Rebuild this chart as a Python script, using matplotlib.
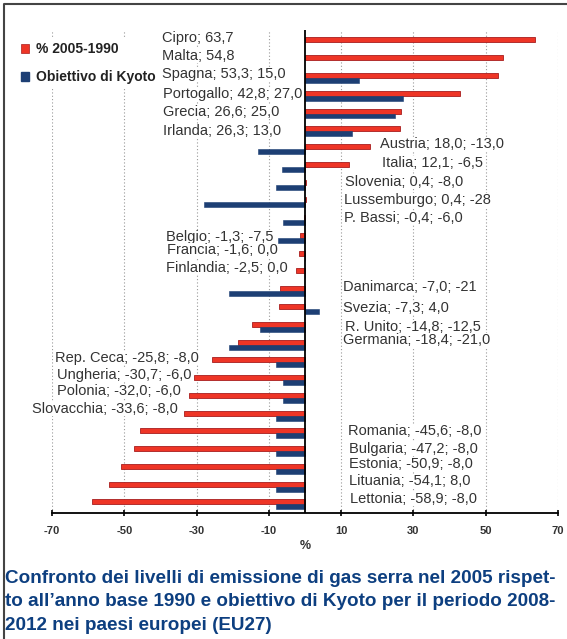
import numpy as np
import matplotlib
matplotlib.use("Agg")
from matplotlib import pyplot as plt
from matplotlib.patches import Patch
from matplotlib.lines import Line2D

# dati: variazione % 2005 vs 1990 e obiettivo di Kyoto
paesi = ["Cipro", "Malta", "Spagna", "Portogallo", "Grecia", "Irlanda", "Austria",
         "Italia", "Slovenia", "Lussemburgo", "P. Bassi", "Belgio", "Francia",
         "Finlandia", "Danimarca", "Svezia", "R. Unito", "Germania", "Rep. Ceca",
         "Ungheria", "Polonia", "Slovacchia", "Romania", "Bulgaria", "Estonia",
         "Lituania", "Lettonia"]
var_2005_1990 = [63.7, 54.8, 53.3, 42.8, 26.6, 26.3, 18.0, 12.1, 0.4, 0.4, -0.4,
                 -1.3, -1.6, -2.5, -7.0, -7.3, -14.8, -18.4, -25.8, -30.7, -32.0,
                 -33.6, -45.6, -47.2, -50.9, -54.1, -58.9]
kyoto = [np.nan, np.nan, 15.0, 27.0, 25.0, 13.0, -13.0, -6.5, -8.0, -28.0, -6.0,
         -7.5, 0.0, 0.0, -21.0, 4.0, -12.5, -21.0, -8.0, -6.0, -6.0, -8.0, -8.0,
         -8.0, -8.0, -8.0, -8.0]
etichette = ["Cipro; 63,7", "Malta; 54,8", "Spagna; 53,3; 15,0",
             "Portogallo; 42,8; 27,0", "Grecia; 26,6; 25,0", "Irlanda; 26,3; 13,0",
             "Austria; 18,0; -13,0", "Italia; 12,1; -6,5", "Slovenia; 0,4; -8,0",
             "Lussemburgo; 0,4; -28", "P. Bassi; -0,4; -6,0", "Belgio; -1,3; -7,5",
             "Francia; -1,6; 0,0", "Finlandia; -2,5; 0,0", "Danimarca; -7,0; -21",
             "Svezia; -7,3; 4,0", "R. Unito; -14,8; -12,5", "Germania; -18,4; -21,0",
             "Rep. Ceca; -25,8; -8,0", "Ungheria; -30,7; -6,0", "Polonia; -32,0; -6,0",
             "Slovacchia; -33,6; -8,0", "Romania; -45,6; -8,0", "Bulgaria; -47,2; -8,0",
             "Estonia; -50,9; -8,0", "Lituania; -54,1; 8,0", "Lettonia; -58,9; -8,0"]
ticks = [-70, -50, -30, -10, 10, 30, 50, 70]

# posizione delle etichette (x in %, y in unita' di categoria)
lab_x = [-39.5, -39.5, -39.5, -39.2, -39.2, -39.2, 20.7, 21.3, 11.0, 10.8, 10.8,
         -38.4, -38.1, -38.4, 10.5, 10.5, 11.0, 10.5, -69.1, -68.5, -68.5, -75.4,
         11.9, 12.2, 12.2, 12.2, 12.4]
lab_y = [-0.25, 0.76, 1.80, 2.90, 3.91, 4.98, 5.71, 6.78, 7.85, 8.86, 9.88, 10.95,
         11.68, 12.69, 13.76, 14.94, 16.01, 16.74, 17.75, 18.71, 19.61, 20.62,
         21.86, 22.87, 23.72, 24.67, 25.69]

RED = "#ee3526"
RED_EDGE = "#a81d1d"
BLUE = "#1d3f74"
TXT = "#333333"
TITLE_BLUE = "#0d3f80"
FONT = ["Liberation Sans", "DejaVu Sans"]

fig = plt.figure(figsize=(5.67, 6.39), dpi=100)
ax = fig.add_axes([52 / 567, 1 - 513 / 639, 506 / 567, 483 / 639])

y = np.arange(len(paesi))
h = 0.28
ax.barh(y - 0.14, var_2005_1990, height=h, color=RED, edgecolor=RED_EDGE,
        linewidth=0.6, zorder=3)
ax.barh(y + 0.14, kyoto, height=h, color=BLUE, edgecolor=BLUE, linewidth=0.4,
        zorder=3)
ax.axvline(0, color="black", lw=1.3, zorder=4)

ax.set_xlim(-70, 70)
ax.set_ylim(26.48, -0.7)
ax.set_yticks([])
ax.set_xticks(ticks)
ax.set_xticklabels([str(t) for t in ticks], fontsize=8, fontweight="bold",
                   color=TXT, family=FONT)
ax.tick_params(axis="x", direction="inout", length=5, width=1.2, pad=7)
ax.grid(axis="x", color="#999999", linestyle=(0, (1, 2)), linewidth=0.8, zorder=1)
for s in ["top", "left", "right"]:
    ax.spines[s].set_visible(False)
ax.spines["bottom"].set_linewidth(1.3)
ax.set_xlabel("%", fontsize=9, fontweight="bold", color=TXT, family=FONT,
              labelpad=3)

for tx, ty, lab in zip(lab_x, lab_y, etichette):
    ax.text(tx, ty, lab, ha="left", va="center", fontsize=10.5, color=TXT,
            family=FONT, zorder=5,
            bbox=dict(facecolor="white", edgecolor="none", pad=0))

handles = [Patch(facecolor=RED, edgecolor=RED_EDGE, linewidth=0.5),
           Patch(facecolor=BLUE, edgecolor=BLUE)]
leg = fig.legend(handles, ["% 2005-1990", "Obiettivo di Kyoto"],
                 loc="upper left", bbox_to_anchor=(17 / 567, 1 - 38 / 639),
                 frameon=True, fancybox=False, edgecolor="none", facecolor="white",
                 framealpha=1, handlelength=0.6, handleheight=0.6,
                 handletextpad=0.5, labelspacing=1.0, borderpad=0.3,
                 borderaxespad=0, prop=dict(size=10, weight="bold", family=FONT))
for t in leg.get_texts():
    t.set_color("#222222")

fig.text(5 / 567, 1 - 570 / 639,
         "Confronto dei livelli di emissione di gas serra nel 2005 rispet-\n"
         "to all\u2019anno base 1990 e obiettivo di Kyoto per il periodo 2008-\n"
         "2012 nei paesi europei (EU27)",
         ha="left", va="top", fontsize=13.6, fontweight="bold", color=TITLE_BLUE,
         family=FONT, linespacing=1.5)

# cornice in alto e a sinistra
fig.add_artist(Line2D([3.5 / 567, 3.5 / 567, 1], [0, 1 - 4 / 639, 1 - 4 / 639],
                      transform=fig.transFigure, color="#444444", lw=1.5))

fig.savefig("out.png", dpi=100)
